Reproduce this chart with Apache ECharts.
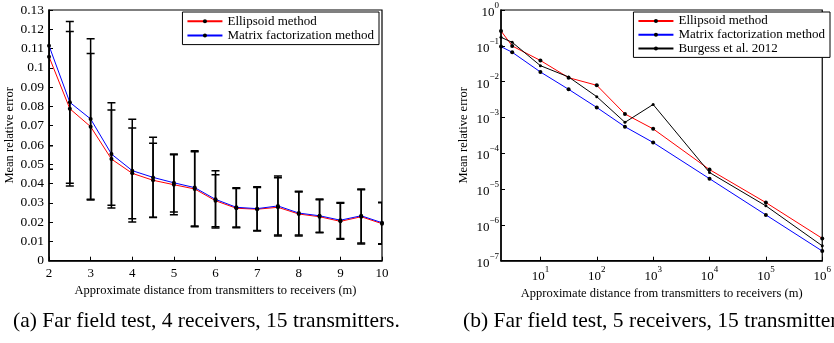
<!DOCTYPE html>
<html><head><meta charset="utf-8">
<script src="https://cdn.jsdelivr.net/npm/echarts@6/dist/echarts.min.js"></script>
<style>html,body{margin:0;padding:0;background:#fff}#c{width:834px;height:343px}</style>
</head><body><div id="c"></div>
<script>
// ---------- Panel (a): linear axes ----------
const distA = [2, 2.5, 3, 3.5, 4, 4.5, 5, 5.5, 6, 6.5, 7, 7.5, 8, 8.5, 9, 9.5, 10];
const ellipsoidA = [0.1058, 0.0788, 0.0695, 0.0527, 0.0453, 0.0417, 0.0394, 0.0372, 0.0311, 0.0272, 0.0267, 0.0277, 0.0242, 0.0228, 0.0204, 0.0228, 0.0192];
const matrixA = [0.1115, 0.0821, 0.0735, 0.0553, 0.0467, 0.0432, 0.0404, 0.0379, 0.0318, 0.0277, 0.0270, 0.0284, 0.0247, 0.0233, 0.0210, 0.0233, 0.0197];
const ellipsoidLow = [0.0474, 0.0388, 0.0315, 0.0273, 0.0218, 0.0225, 0.0238, 0.0176, 0.0176, 0.0171, 0.0154, 0.0128, 0.0128, 0.0145, 0.0111, 0.0087, 0.0085];
const ellipsoidHigh = [0.164, 0.1188, 0.1075, 0.0781, 0.0688, 0.0609, 0.0550, 0.0565, 0.0446, 0.0374, 0.0380, 0.0430, 0.0356, 0.0316, 0.0298, 0.0368, 0.0300];
const matrixLow = [0.0596, 0.0402, 0.0319, 0.0287, 0.0201, 0.0224, 0.0253, 0.0180, 0.0169, 0.0175, 0.0157, 0.0133, 0.0133, 0.0148, 0.0115, 0.0092, 0.0088];
const matrixHigh = [0.1635, 0.1241, 0.1151, 0.0819, 0.0733, 0.0640, 0.0553, 0.0570, 0.0467, 0.0378, 0.0384, 0.0439, 0.0360, 0.0320, 0.0302, 0.0372, 0.0303];

// ---------- Panel (b): log-log axes ----------
const distB = [2, 3.162, 10, 31.62, 100, 316.2, 1000, 10000, 100000, 1000000];
const ellipsoidB = [0.26, 0.099, 0.039, 0.0129, 0.0079, 1.25e-3, 4.8e-4, 3.5e-5, 4.2e-6, 4.2e-7];
const matrixB = [0.095, 0.066, 0.0186, 0.0061, 1.9e-3, 5.5e-4, 2.0e-4, 1.95e-5, 1.9e-6, 1.86e-7];
const burgessB = [0.173, 0.125, 0.0279, 0.0135, 3.8e-3, 7.3e-4, 2.3e-3, 2.9e-5, 3.4e-6, 2.6e-7];
const xTicksB = [10, 100, 1000, 10000, 100000, 1000000];
const yTicksB = [1e-7, 1e-6, 1e-5, 1e-4, 1e-3, 1e-2, 1e-1, 1];

const names = ['Ellipsoid method', 'Matrix factorization method', 'Burgess et al. 2012'];
const captionA = '(a) Far field test, 4 receivers, 15 transmitters.';
const captionB = '(b) Far field test, 5 receivers, 15 transmitters.';
const xName = 'Approximate distance from transmitters to receivers (m)';
const yName = 'Mean relative error';

const FF = 'Liberation Serif';
const zip = (xs, ys) => xs.map((x, i) => [x, ys[i]]);
const zip3 = (xs, a, b) => xs.map((x, i) => [x, a[i], b[i]]);

function errRender(params, api) {
  const x = api.value(0), lo = api.value(1), hi = api.value(2);
  const pLo = api.coord([x, lo]), pHi = api.coord([x, hi]);
  const w = 4;
  const st = { stroke: '#000', lineWidth: 1.5 };
  return { type: 'group', children: [
    { type: 'line', shape: { x1: pLo[0], y1: pLo[1], x2: pHi[0], y2: pHi[1] }, style: st },
    { type: 'line', shape: { x1: pLo[0] - w, y1: pLo[1], x2: pLo[0] + w, y2: pLo[1] }, style: st },
    { type: 'line', shape: { x1: pHi[0] - w, y1: pHi[1], x2: pHi[0] + w, y2: pHi[1] }, style: st }
  ]};
}

function powLabel(v) {
  const e = Math.round(Math.log10(v));
  return '{b|10}{e|' + (e < 0 ? '\u2212' + (-e) : e) + '}';
}
const powRich = {
  b: { fontSize: 13, fontFamily: FF, color: '#000', lineHeight: 18, verticalAlign: 'bottom' },
  e: { fontSize: 9, fontFamily: FF, color: '#000', lineHeight: 18, verticalAlign: 'top' }
};

const axisLine = { show: true, lineStyle: { color: '#000', width: 1.5 } };
const tick = { show: true, inside: true, length: 4, lineStyle: { color: '#000', width: 1 } };
const nameStyle = { fontFamily: FF, fontSize: 12.5, color: '#000' };

const chart = echarts.init(document.getElementById('c'));
chart.setOption({
  animation: false,
  backgroundColor: '#fff',
  grid: [
    { left: 49, top: 10, width: 333, height: 250.7, show: true, borderColor: '#000', borderWidth: 1.2, containLabel: false },
    { left: 501, top: 10, width: 332, height: 250.7, show: true, borderColor: '#000', borderWidth: 1.2, containLabel: false }
  ],
  xAxis: [
    { type: 'value', gridIndex: 0, min: 2, max: 10, interval: 1, axisLine, axisTick: tick, splitLine: { show: false },
      axisLabel: { fontFamily: FF, fontSize: 13, color: '#000', margin: 6 },
      name: xName, nameLocation: 'middle', nameGap: 20, nameTextStyle: nameStyle },
    { type: 'log', gridIndex: 1, min: 2, max: 1000000, logBase: 10, axisLine,
      axisTick: Object.assign({}, tick, { customValues: xTicksB }), splitLine: { show: false }, minorTick: { show: false },
      axisLabel: { customValues: xTicksB, formatter: powLabel, rich: powRich, margin: 4, alignMaxLabel: 'center', hideOverlap: false },
      name: xName, nameLocation: 'middle', nameGap: 20, nameTextStyle: nameStyle }
  ],
  yAxis: [
    { type: 'value', gridIndex: 0, min: 0, max: 0.13, interval: 0.01, axisLine, axisTick: tick, splitLine: { show: false },
      axisLabel: { fontFamily: FF, fontSize: 13.5, color: '#000', margin: 5 },
      name: yName, nameLocation: 'middle', nameGap: 31, nameTextStyle: nameStyle },
    { type: 'log', gridIndex: 1, min: 1e-7, max: 1, logBase: 10, axisLine,
      axisTick: Object.assign({}, tick, { customValues: yTicksB }), splitLine: { show: false }, minorTick: { show: false },
      axisLabel: { customValues: yTicksB, formatter: powLabel, rich: powRich, margin: 2 },
      name: yName, nameLocation: 'middle', nameGap: 31, nameTextStyle: nameStyle }
  ],
  legend: [
    { data: [names[0], names[1]], orient: 'vertical', right: 455, top: 12,
      backgroundColor: '#fff', borderColor: '#000', borderWidth: 1, borderRadius: 0, padding: [2, 5, 2, 4],
      itemWidth: 35, itemHeight: 5, itemGap: 0,
      textStyle: { fontFamily: FF, fontSize: 13, color: '#000', lineHeight: 14.3 } },
    { data: names, orient: 'vertical', right: 4, top: 12,
      backgroundColor: '#fff', borderColor: '#000', borderWidth: 1, borderRadius: 0, padding: [2, 5, 2, 4],
      itemWidth: 35, itemHeight: 5, itemGap: 0,
      textStyle: { fontFamily: FF, fontSize: 13, color: '#000', lineHeight: 13.8 } }
  ],
  series: [
    { type: 'custom', xAxisIndex: 0, yAxisIndex: 0, renderItem: errRender, clip: true, z: 3,
      encode: { x: 0, y: [1, 2] }, data: zip3(distA, ellipsoidLow, ellipsoidHigh), silent: true },
    { type: 'custom', xAxisIndex: 0, yAxisIndex: 0, renderItem: errRender, clip: true, z: 3,
      encode: { x: 0, y: [1, 2] }, data: zip3(distA, matrixLow, matrixHigh), silent: true },
    { name: names[0], type: 'line', xAxisIndex: 0, yAxisIndex: 0, data: zip(distA, ellipsoidA), z: 2,
      symbol: 'circle', symbolSize: 4, showAllSymbol: true, itemStyle: { color: '#000' }, lineStyle: { color: '#ff0000', width: 1 } },
    { name: names[1], type: 'line', xAxisIndex: 0, yAxisIndex: 0, data: zip(distA, matrixA), z: 2,
      symbol: 'circle', symbolSize: 4, showAllSymbol: true, itemStyle: { color: '#000' }, lineStyle: { color: '#0000ff', width: 1 } },
    { name: names[0], type: 'line', xAxisIndex: 1, yAxisIndex: 1, data: zip(distB, ellipsoidB), z: 2,
      symbol: 'circle', symbolSize: 4, showAllSymbol: true, itemStyle: { color: '#000' }, lineStyle: { color: '#ff0000', width: 1 } },
    { name: names[1], type: 'line', xAxisIndex: 1, yAxisIndex: 1, data: zip(distB, matrixB), z: 2,
      symbol: 'circle', symbolSize: 4, showAllSymbol: true, itemStyle: { color: '#000' }, lineStyle: { color: '#0000ff', width: 1 } },
    { name: names[2], type: 'line', xAxisIndex: 1, yAxisIndex: 1, data: zip(distB, burgessB), z: 2,
      symbol: 'circle', symbolSize: 3, showAllSymbol: true, itemStyle: { color: '#000' }, lineStyle: { color: '#000', width: 1 } }
  ],
  graphic: [
    { type: 'text', left: 13, top: 310, style: { text: captionA, font: '21.5px "Liberation Serif"', fill: '#000' } },
    { type: 'text', left: 463, top: 310, style: { text: captionB, font: '21.5px "Liberation Serif"', fill: '#000' } }
  ]
});
</script>
</body></html>
